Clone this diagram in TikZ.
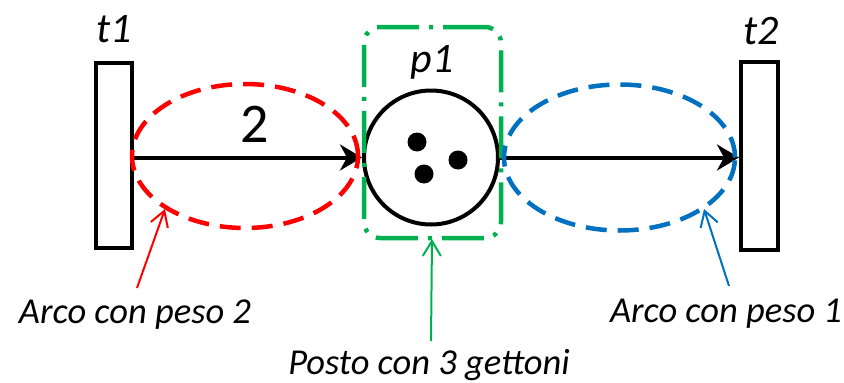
\documentclass[tikz,border=0pt]{standalone}
\usepackage{fontspec}
\setmainfont{Carlito}
\usetikzlibrary{arrows.meta,shapes.geometric}
\definecolor{ored}{RGB}{255,0,0}
\definecolor{oblue}{RGB}{0,112,192}
\definecolor{ogreen}{RGB}{0,176,80}
\begin{document}
\begin{tikzpicture}[x=1pt,y=-1pt,
  trans/.style={draw,line width=4pt,rectangle,inner sep=0pt},
  place/.style={draw,line width=4pt,circle,inner sep=0pt,minimum size=134pt},
  token/.style={circle,fill=black,inner sep=0pt,minimum size=19pt},
  arcbox/.style={draw,ellipse,line width=4.5pt,inner sep=0pt,dash pattern=on 21pt off 11pt},
  mainarc/.style={line width=4pt,-{Stealth[length=22pt,width=26pt,inset=7pt]}},
  bigtxt/.style={font=\fontsize{42}{46}\selectfont\itshape,inner sep=0pt,anchor=base},
  note/.style={font=\fontsize{36.5}{40}\selectfont\itshape,inner sep=0pt,anchor=base},
  notearrow/.style={line width=2pt,-{Straight Barb[length=15pt,width=18pt,line width=2pt]}}
]
\useasboundingbox (0,0) rectangle (844,383);
% transitions and place
\node[trans,minimum width=36pt,minimum height=185pt] (t1) at (114,155.5) {};
\node[trans,minimum width=37pt,minimum height=188pt] (t2) at (759.5,156) {};
\node[place] (p1) at (431,157.5) {};
\node[token] (k1) at (417,142) {};
\node[token] (k2) at (458,160) {};
\node[token] (k3) at (424,174) {};
% arcs
\draw[mainarc] (t1.east |- p1.west) -- (p1.west);
\draw[mainarc] (p1.east) -- (t2.west |- p1.east);
% green place box
\node[draw=ogreen,line width=4.5pt,rectangle,rounded corners=16pt,minimum width=137pt,minimum height=211pt,inner sep=0pt,dash pattern=on 42pt off 10pt on 4pt off 10pt] (pbox) at (432.5,132.5) {};
% ellipses
\node[arcbox,draw=ored,minimum width=226pt,minimum height=144pt] (e1) at (245,156) {};
\node[arcbox,draw=oblue,minimum width=231pt,minimum height=146pt] (e2) at (619.5,157.5) {};
% labels
\node[bigtxt] (lt1) at (114,42) {t1};
\node[bigtxt] (lt2) at (761,44) {t2};
\node[bigtxt] (lp1) at (432,72) {p1};
\node[font=\fontsize{56}{60}\selectfont,inner sep=0pt,anchor=base] (w2) at (255,142) {2};
% notes
\node[note] (n1) at (135,323) {Arco con peso 2};
\node[note] (n2) at (429,374) {Posto con 3 gettoni};
\node[note] (n3) at (726,322) {Arco con peso 1};
\coordinate (s1) at (137,288);
\coordinate (h1) at (165,209);
\coordinate (s2) at (431,341);
\coordinate (h2) at (432,239);
\coordinate (s3) at (729,286);
\coordinate (h3) at (704,209);
\draw[notearrow,ored] (s1) -- (h1);
\draw[notearrow,ogreen] (s2) -- (h2);
\draw[notearrow,oblue] (s3) -- (h3);
\end{tikzpicture}
\end{document}
